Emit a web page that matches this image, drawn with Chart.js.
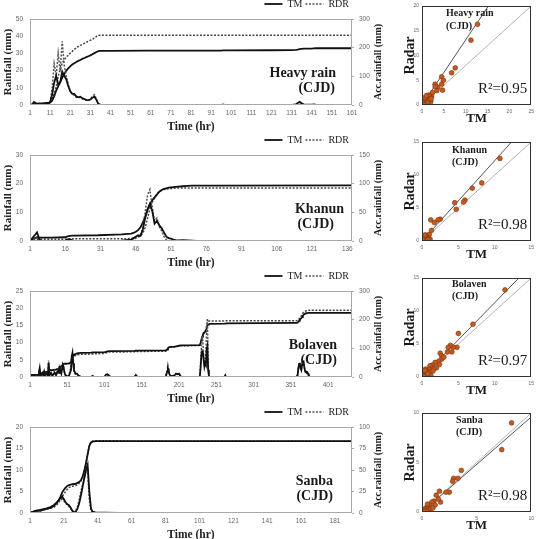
<!DOCTYPE html>
<html>
<head>
<meta charset="utf-8">
<script src="https://cdn.jsdelivr.net/npm/chart.js@4.4.1/dist/chart.umd.min.js"></script>
<style>
  body { margin: 0; background: #fff; width: 538px; height: 539px; overflow: hidden; position: relative; }
  canvas { position: absolute; }
</style>
</head>
<body>
<canvas id="ts1" width="392" height="139" style="left:0;top:-4px"></canvas>
<canvas id="ts2" width="392" height="139" style="left:0;top:132px"></canvas>
<canvas id="ts3" width="392" height="139" style="left:0;top:268px"></canvas>
<canvas id="ts4" width="392" height="139" style="left:0;top:404px"></canvas>
<canvas id="sc1" width="146" height="127" style="left:392px;top:0"></canvas>
<canvas id="sc2" width="146" height="127" style="left:392px;top:136px"></canvas>
<canvas id="sc3" width="146" height="127" style="left:392px;top:272px"></canvas>
<canvas id="sc4" width="146" height="127" style="left:392px;top:407px"></canvas>
<script>
// ---- hourly series (left axis, mm) and accumulated series (right axis, mm) ----

// Heavy rain
const heavyHr = [1,2,3,4,5,6,7,8,9,10, 11,12,13,14,15,16,17,18,19,20, 21,22,23,24,25,26,27,28,29,30,
  31,32,33,34,35,36, 40,60,96,97,98,100,120,131,133,134,135,136,137,138,141,142,143,145,161];
const heavyTM = [0,0.3,1.8,1,0.8,0.6,0.5,0.5,0.6,0.8, 1.5,6,13,17,12,13,19.5,17,15,11, 8,6.5,6.5,5,4.5,4.8,4,3.5,3,2.8,
  3.2,4.2,4.8,3,0.6,0.2, 0,0,0,0.3,0,0,0,0,0.3,1.2,1.8,1,0.4,0.2,0.2,0.4,0.2,0,0];
const heavyRDR = [0,0.5,1.2,1,0.7,0.5,0.5,0.5,0.5,0.7, 2,10,24,17,30,20,37,23,17,12, 8,6.5,5.5,4.5,4.2,4.5,3.5,3,2.8,2.5,
  3.5,5,6,3.5,0.5,0, 0,0,0,0,0,0,0,0,0,0.3,0.6,0.3,0,0,0,0,0,0,0];
const heavyTMAcc = [0,1,3,4,5,5.5,6,6.5,7,7.5, 9,15,30,50,65,80,95,108,119,128, 135,141,146,150,154,157,161,164,167,170,
  173,177,181,185,188,189, 189,189.5,190,190.5,190.5,190.5,191,191.5,192,193,195,196,196.5,197,197,197.5,198,198,198];
const heavyRDRAcc = [0,1,2,3,3.5,4,4,4.5,4.5,5, 8,18,42,62,100,122,145,158,167,174, 181,187,194,200,204,208,211,215,219,222,
  226,229,233,239,243,243, 243,243,243,243,243,243,243,243,243,243,243,243,243,243,243,243,243,243,243];
const heavyTicks = [1,11,21,31,41,51,61,71,81,91,101,111,121,131,141,151,161];

// Khanun
const khanunHr = [1,2,3,4,5,6, 10,16,17,18,19,20, 30,40,
  44,45,46,47,48,49,50,51,52,53,54,55,56,57,58,59,60,61,62,63,64, 66,68,70,72,80,138];
const khanunTM = [0,1,2,3,0.5,0, 0,0.1,0.6,0.6,0.2,0, 0,0.1,
  0.5,1,1.5,2,1.8,4,8,11,13,10.5,6,7,5.5,4.5,3,1.5,1,0.8,0.5,0.3,0.2, 0.3,0.2,0.1,0,0,0];
const khanunRDR = [0,0.5,1,1.5,0.3,0, 0,0,0.3,0.3,0,0, 0,0,
  0.2,0.5,1,1.5,2,4.5,10,16,18,12,7,8,5,3.5,1.5,0.5,0.2,0,0,0,0, 0,0,0,0,0,0];
const khanunTMAcc = [0,3,5,6,6,6, 6,6.5,8,9,9.5,9.5, 10,11.5,
  13,14,16,19,24,32,42,55,64,71,76,81,86,89,91,92,93,93.5,94,94.5,95, 95.5,96,96.5,96.5,96.5,97];
const khanunRDRAcc = [0,1,2,3,3.2,3.2, 3.2,3.2,3.5,3.8,3.8,3.8, 3.8,4,
  4.2,4.5,5.5,7,9,13.5,23.5,39.5,57,68,75,82,86,88.5,90,90.5,91,91.5,92,92.5,92.5, 92.5,92.5,92.5,92.5,92.5,92.5];
const khanunTicks = [1,16,31,46,61,76,91,106,121,136];

// Bolaven
const bolavenHr = [1,4,6,12,13,14,15,16,18,19, 20,21,23,25,26,27,29,31,34,36, 39,40,41,43,45,46,47,48,50,53,
  56,57,58,59,60,62,64,66,70,83, 85,87,101,103,105,107,109,141,143,145, 183,185,186,187,188,190,195,197,199,201,
  203,205,228,229,230,231,232,233,234,235, 236,237,238,239,240,241,242,262,263,264,
  356,358,360,361,362,363,364,365,366,367, 368,369,370,371,372,373,374,375,377,433];
const bolavenTM = [0.8,0.2,0,0.3,1.5,2.6,0.8,0.4,1.2,0.6, 1.5,0.5,1.0,0.3,4.2,0.5,1.0,0.4,1.2,0.5, 2.0,1.2,2.3,1.0,3.6,3.0,1.5,0.8,0.3,0.2,
  2.0,6.0,7.0,4.0,2.0,1.0,1.0,0.4,0,0, 0.3,0,0,0.7,0.8,0.4,0,0,0.6,0, 0,1.5,2.5,2.0,0.8,0.2,0.5,1.0,0.8,1.0,
  0.2,0,0,0.5,3.0,6.5,7.5,7.0,5.0,3.0, 4.0,3.5,8.0,9.0,2.0,0.5,0,0,0.5,0,
  0,0,0.5,2.5,3.8,4.0,2.5,2.0,3.5,4.3, 4.5,3.0,1.8,1.5,1.6,1.4,1.0,0.3,0,0];
const bolavenRDR = [0.5,0.1,0,0.2,1.0,2.0,0.5,0.3,0.8,1.5, 1.2,0.5,1.2,0.5,4.8,0.6,1.8,0.5,1.8,0.8, 2.5,1.5,2.0,1.5,3.8,2.5,1.8,0.6,0.2,0.2,
  3.0,6.5,6.0,4.0,1.5,0.8,0.8,0.3,0,0, 0.2,0,0,0.6,0.7,0.3,0,0,0.5,0, 0,2.0,3.5,2.5,1.0,0.2,0.4,0.9,0.8,0.9,
  0.2,0,0,0.8,5.0,9.0,12.0,10.0,6.0,3.0, 4.0,8.0,13.0,17.0,4.0,0.5,0,0,0.4,0,
  0,0,0.6,2.2,3.5,4.2,3.0,2.2,3.6,4.5, 4.2,2.8,1.6,1.4,1.5,1.2,0.8,0.3,0,0];
const bolavenTMAcc = [6,7,7,8,10,12,13,13,14,15, 16,17,18,19,22,23,24,24,25,26, 27,30,33,38,42,45,46,46.5,47,47.5,
  50,62,72,76,78,80,82,83,84,85, 85.5,86,87,88,89,90,90,91,91.5,92, 93,96,100,103,104,105,106,107,108,109,
  110,110,111,113,120,130,140,148,152,155, 158,162,170,180,183,184,185,186,186.5,187,
  189,189,190,192,196,200,203,205,209,213, 217,219,221,222,222.5,223,223.5,224,224,224];
const bolavenRDRAcc = [4,5,5,6,7,9,10,10,11,12, 14,14,16,16,21,22,24,24,26,27, 29,31,33,36,40,43,45,45.5,46,46,
  49,58,66,70,73,75,77,78,79,80, 80,81,82,84,86,87,87,88,89,89, 90,93,98,102,103,104,105,106,107,108,
  109,109,110,112,118,128,140,150,156,158, 160,166,178,192,194,195,195,195,196,196,
  196,196,197,199,203,208,211,213,217,222, 226,228,229,230,231,231.5,232,232.5,233,233];
const bolavenTicks = [1,51,101,151,201,251,301,351,401];

// Sanba
const sanbaHr = [1,3,5,7,9,11,13,15, 17,18,19,20,21,22,23,24,25,26,27,28,29,30,31,32,33,34,35,36,37,38, 40,45,53,60,191];
const sanbaTM = [0.1,0.3,0.6,0.5,0.8,1.0,1.2,1.6, 2.5,3.0,3.5,3.8,3.2,2.5,2.0,1.8,1.2,0.5,0.1,0.3,1.0,2.2,4.0,6.0,8.0,10.0,11.2,5.0,1.0,0.3,
  0.1,0.1,0,0,0];
const sanbaRDR = [0,0.2,0.4,0.5,0.7,0.9,1.1,1.3, 2.0,2.6,3.0,3.2,2.8,2.2,2.0,1.5,1.0,0.6,0.3,0.5,1.5,3.0,5.0,6.5,8.0,9.5,10.0,3.0,0.4,0.1,
  0,0,0,0,0];
const sanbaTMAcc = [0.5,1.5,2.5,3.5,4.5,5.5,7,9, 12.5,15,19,24,27,29.5,31.5,32.5,33,33.5,33.7,34,35,36,38,42,49,58,68,78,82,83,
  83.5,83.5,83.5,83.5,83.5];
const sanbaRDRAcc = [0,1,2,3,4,5,6,7.5, 10,12.5,15.5,19,22,25,27.5,29.5,30.5,31,31.5,32,33,34.5,37,41,47,56,68,79,83,83.8,
  84,84,84,83.5,83.5];
const sanbaTicks = [1,21,41,61,81,101,121,141,161,181];

// ---- scatter: TM (x) vs Radar (y), hourly mm ----
const heavyScTM  = [12.7,11.2,7.6,6.8,4.5,4.9,4.5,3.0,3.6,3.4,4.7,3.0,2.2,1.8,1.5,1.2,1.0,0.8,0.5,0.3,1.6,2.0,1.4,0.6,0.2,1.7,1.1,0.9,2.4,1.9,
  0.4,0.7,1.3,0.1,1.0,1.8,2.1,0.5];
const heavyScRDR = [16.3,13.1,7.5,6.5,5.7,5.0,4.2,4.2,3.6,2.9,3.0,3.7,1.8,1.6,2.0,1.2,1.0,0.6,0.4,0.1,1.4,0.8,0.3,1.0,0.2,1.8,0.2,0.5,2.5,0.5,
  0.9,1.5,0.6,0.5,1.9,1.1,1.3,0.1];
const khanunScTM  = [10.7,8.2,6.9,5.9,5.7,4.5,4.7,2.5,2.2,1.2,1.7,1.0,0.8,0.6,0.5,0.4,0.3,0.2,0.1,0.7,0.9,0.5,0.3,1.1,0.6,
  0.2,0.4,0.8,1.3,0.1];
const khanunScRDR = [12.5,8.8,8.0,6.2,5.9,5.8,4.8,3.3,3.2,3.2,2.8,1.0,0.5,0.3,0.7,0.2,0.4,0.1,0.0,0.2,0.4,0.9,0.6,0.3,0.1,
  0.5,0.9,0.2,1.6,0.3];
const bolavenScTM  = [11.4,7.0,5.0,4.8,4.3,3.9,3.6,3.5,4.1,2.5,2.7,2.7,2.3,1.8,2.0,1.4,1.1,0.9,0.7,0.5,0.2,0.1,1.1,1.6,0.7,0.5,1.2,0.15,
  0.3,0.8,1.5,0.4,2.4,3.0];
const bolavenScRDR = [13.2,8.0,6.6,4.5,4.5,4.8,4.5,3.8,3.8,3.6,3.2,2.7,2.4,2.2,1.4,1.8,1.7,1.2,0.9,0.7,0.4,0.15,0.7,1.2,0.25,1.2,0.25,0.8,
  0.1,0.5,0.9,1.0,1.9,3.0];
const sanbaScTM  = [8.2,7.3,3.6,2.9,3.3,2.8,2.5,2.2,1.6,1.3,1.7,1.1,0.9,0.7,0.45,0.3,0.15,0.6,0.8,0.4,1.2,
  0.2,1.0,1.5,0.5];
const sanbaScRDR = [9.0,6.3,4.2,3.4,3.4,3.1,2.0,2.0,2.1,1.7,1.0,1.1,1.0,0.7,0.5,0.35,0.2,0.2,0.35,0.1,0.7,
  0.05,0.4,1.3,0.8];

// fitted line and reference line end points [x0, x1], [y0, y1]
const heavyFitX = [0, 15.2],  heavyFitY = [0, 20],  heavyRefX = [0, 25],  heavyRefY = [0, 20];
const khanunFitX = [0, 12.3], khanunFitY = [0, 15], khanunRefX = [0, 15], khanunRefY = [0, 15];
const bolavenFitX = [0, 13.3], bolavenFitY = [0, 15], bolavenRefX = [0, 15], bolavenRefY = [0, 15];
const sanbaFitX = [0, 10],    sanbaFitY = [0, 9.6], sanbaRefX = [0, 10],  sanbaRefY = [0, 10];

const SERIF = '"Liberation Serif", "DejaVu Serif", serif';
const SANS = '"Liberation Sans", "DejaVu Sans", sans-serif';

function frame(color) {
  return {
    id: 'frame',
    afterDatasetsDraw(chart) {
      const a = chart.chartArea, ctx = chart.ctx;
      ctx.save();
      ctx.strokeStyle = color;
      ctx.lineWidth = 1;
      ctx.strokeRect(Math.round(a.left) + 0.5, Math.round(a.top) + 0.5,
        Math.round(a.right - a.left) - 1, Math.round(a.bottom - a.top) - 1);
      ctx.restore();
    }
  };
}

// legend items: line sample with the dataset's own dash and width
function lineLabels(chart) {
  return Chart.defaults.plugins.legend.labels.generateLabels(chart).map((item) => {
    const ds = chart.data.datasets[item.datasetIndex];
    item.lineDash = ds.borderDash || [];
    item.lineWidth = ds.borderWidth;
    item.strokeStyle = ds.borderColor;
    return item;
  });
}

function seriesChart(p) {
  const pts = (vals) => p.hours.map((h, i) => ({x: h, y: vals[i]}));
  const tickFont = {family: SANS, size: 6.5};
  new Chart(document.getElementById(p.id), {
    type: 'line',
    data: {
      datasets: [
        {label: 'TM', data: pts(p.tm), yAxisID: 'y', borderColor: '#111', borderWidth: 1.8},
        {label: 'RDR', data: pts(p.rdr), yAxisID: 'y', borderColor: '#555', borderWidth: 1.5, borderDash: [2, 1.5]},
        {label: '', data: pts(p.tmAcc), yAxisID: 'y1', borderColor: '#111', borderWidth: 1.8},
        {label: '', data: pts(p.rdrAcc), yAxisID: 'y1', borderColor: '#444', borderWidth: 1.5, borderDash: [2, 1.5]},
      ],
    },
    options: {
      responsive: false,
      animation: false,
      elements: {point: {radius: 0}, line: {tension: 0}},
      plugins: {
        tooltip: {enabled: false},
        legend: {
          position: 'top',
          align: 'end',
          fullSize: false,
          labels: {
            generateLabels: lineLabels,
            filter: (item) => item.text !== '',
            usePointStyle: true,
            pointStyle: 'line',
            pointStyleWidth: 18,
            padding: 3,
            color: '#222',
            font: {family: SERIF, size: 10},
          },
        },
      },
      scales: {
        x: {
          type: 'linear',
          min: 1,
          max: p.xMax,
          afterBuildTicks: (s) => { s.ticks = p.xTicks.map((v) => ({value: v})); },
          afterFit: (s) => { s.height = 30; },
          grid: {display: false, drawTicks: false},
          border: {display: false},
          ticks: {font: tickFont, color: '#666', padding: 4, maxRotation: 0, autoSkip: false},
          title: {display: true, text: 'Time (hr)', color: '#222',
            font: {family: SERIF, size: 11.5, weight: 'bold'}, padding: {top: 0, bottom: 1}},
        },
        y: {
          position: 'left',
          min: 0,
          max: p.yMax,
          afterFit: (s) => { s.width = 30; },
          grid: {display: false, drawTicks: false},
          border: {display: false},
          ticks: {stepSize: p.yStep, font: tickFont, color: '#666', padding: 7},
          title: {display: true, text: 'Rainfall (mm)', color: '#222',
            font: {family: SERIF, size: 11, weight: 'bold'}, padding: {top: 1.5, bottom: 0}},
        },
        y1: {
          position: 'right',
          min: 0,
          max: p.y1Max,
          afterFit: (s) => { s.width = 40; },
          grid: {display: true, drawOnChartArea: false, drawTicks: true, tickLength: 2, color: '#aaa'},
          border: {display: false},
          ticks: {stepSize: p.y1Step, font: tickFont, color: '#666', padding: 5},
        },
      },
    },
    plugins: [frame('#a8a8a8'), {
      id: 'labels',
      afterDraw(chart) {
        const a = chart.chartArea, ctx = chart.ctx;
        ctx.save();
        ctx.fillStyle = '#1a1a1a';
        ctx.textBaseline = 'middle';
        ctx.textAlign = 'right';
        ctx.font = 'bold 14px ' + SERIF;
        ctx.fillText(p.name, p.nameX, a.top + 54);
        ctx.fillText('(CJD)', p.cjdX, a.top + 69);
        ctx.translate(378, (a.top + a.bottom) / 2);
        ctx.rotate(-Math.PI / 2);
        ctx.textAlign = 'center';
        ctx.font = 'bold 10px ' + SERIF;
        ctx.fillText('Acc.rainfall (mm)', 0, 0);
        ctx.restore();
      },
    }],
  });
}

function scatterChart(s) {
  const pts = (xs, ys) => xs.map((x, i) => ({x: x, y: ys[i]}));
  const tickFont = {family: SANS, size: 5};
  new Chart(document.getElementById(s.id), {
    type: 'scatter',
    data: {
      datasets: [
        {data: pts(s.tm, s.rdr), backgroundColor: '#c65a1e', borderColor: '#7a3410', borderWidth: 0.6, pointRadius: 2.4},
        {data: pts(s.fitX, s.fitY), showLine: true, borderColor: '#555', borderWidth: 1, pointRadius: 0},
        {data: pts(s.refX, s.refY), showLine: true, borderColor: '#b4b4b4', borderWidth: 1, pointRadius: 0},
      ],
    },
    options: {
      responsive: false,
      animation: false,
      layout: {padding: {top: 6, right: 6}},
      plugins: {legend: {display: false}, tooltip: {enabled: false}},
      scales: {
        x: {
          min: 0,
          max: s.xMax,
          afterFit: (sc) => { sc.height = 22; },
          grid: {display: false, drawTicks: false},
          border: {display: false},
          ticks: {stepSize: 5, font: tickFont, color: '#666', padding: 4, maxRotation: 0},
          title: {display: true, text: 'TM', color: '#1a1a1a',
            font: {family: SERIF, size: 13, weight: 'bold'}, padding: {top: 0, bottom: 1}},
        },
        y: {
          min: 0,
          max: s.yMax,
          afterFit: (sc) => { sc.width = 30; },
          grid: {display: false, drawTicks: false},
          border: {display: false},
          ticks: {stepSize: 5, font: tickFont, color: '#666', padding: 3},
          title: {display: true, text: 'Radar', color: '#1a1a1a',
            font: {family: SERIF, size: 14, weight: 'bold'}, padding: {top: 10, bottom: 0}},
        },
      },
    },
    plugins: [frame('#333'), {
      id: 'labels',
      afterDraw(chart) {
        const a = chart.chartArea, ctx = chart.ctx;
        ctx.save();
        ctx.fillStyle = '#1a1a1a';
        ctx.textBaseline = 'middle';
        ctx.textAlign = 'left';
        ctx.font = 'bold 10px ' + SERIF;
        ctx.fillText(s.name, a.left + s.nameDX, a.top + s.nameDY);
        ctx.fillText('(CJD)', a.left + s.nameDX, a.top + s.nameDY + 12.5);
        ctx.textAlign = 'right';
        ctx.font = '15px ' + SERIF;
        ctx.fillText('R\u00B2=' + s.r2, a.right - 4, a.bottom - 16);
        ctx.restore();
      },
    }],
  });
}

seriesChart({id: 'ts1', hours: heavyHr, tm: heavyTM, rdr: heavyRDR, tmAcc: heavyTMAcc, rdrAcc: heavyRDRAcc,
  xMax: 161, xTicks: heavyTicks, yMax: 50, yStep: 10, y1Max: 300, y1Step: 100, name: 'Heavy rain', nameX: 336, cjdX: 335});
seriesChart({id: 'ts2', hours: khanunHr, tm: khanunTM, rdr: khanunRDR, tmAcc: khanunTMAcc, rdrAcc: khanunRDRAcc,
  xMax: 138, xTicks: khanunTicks, yMax: 30, yStep: 10, y1Max: 150, y1Step: 50, name: 'Khanun', nameX: 344, cjdX: 334});
seriesChart({id: 'ts3', hours: bolavenHr, tm: bolavenTM, rdr: bolavenRDR, tmAcc: bolavenTMAcc, rdrAcc: bolavenRDRAcc,
  xMax: 433, xTicks: bolavenTicks, yMax: 25, yStep: 5, y1Max: 300, y1Step: 100, name: 'Bolaven', nameX: 337, cjdX: 337});
seriesChart({id: 'ts4', hours: sanbaHr, tm: sanbaTM, rdr: sanbaRDR, tmAcc: sanbaTMAcc, rdrAcc: sanbaRDRAcc,
  xMax: 191, xTicks: sanbaTicks, yMax: 20, yStep: 5, y1Max: 100, y1Step: 25, name: 'Sanba', nameX: 333, cjdX: 333});

scatterChart({id: 'sc1', tm: heavyScTM, rdr: heavyScRDR, fitX: heavyFitX, fitY: heavyFitY, refX: heavyRefX, refY: heavyRefY,
  xMax: 25, yMax: 20, name: 'Heavy rain', nameDX: 24, nameDY: 7.5, r2: '0.95'});
scatterChart({id: 'sc2', tm: khanunScTM, rdr: khanunScRDR, fitX: khanunFitX, fitY: khanunFitY, refX: khanunRefX, refY: khanunRefY,
  xMax: 15, yMax: 15, name: 'Khanun', nameDX: 30, nameDY: 8, r2: '0.98'});
scatterChart({id: 'sc3', tm: bolavenScTM, rdr: bolavenScRDR, fitX: bolavenFitX, fitY: bolavenFitY, refX: bolavenRefX, refY: bolavenRefY,
  xMax: 15, yMax: 15, name: 'Bolaven', nameDX: 30, nameDY: 6, r2: '0.97'});
scatterChart({id: 'sc4', tm: sanbaScTM, rdr: sanbaScRDR, fitX: sanbaFitX, fitY: sanbaFitY, refX: sanbaRefX, refY: sanbaRefY,
  xMax: 10, yMax: 10, name: 'Sanba', nameDX: 34, nameDY: 7, r2: '0.98'});
</script>
</body>
</html>
